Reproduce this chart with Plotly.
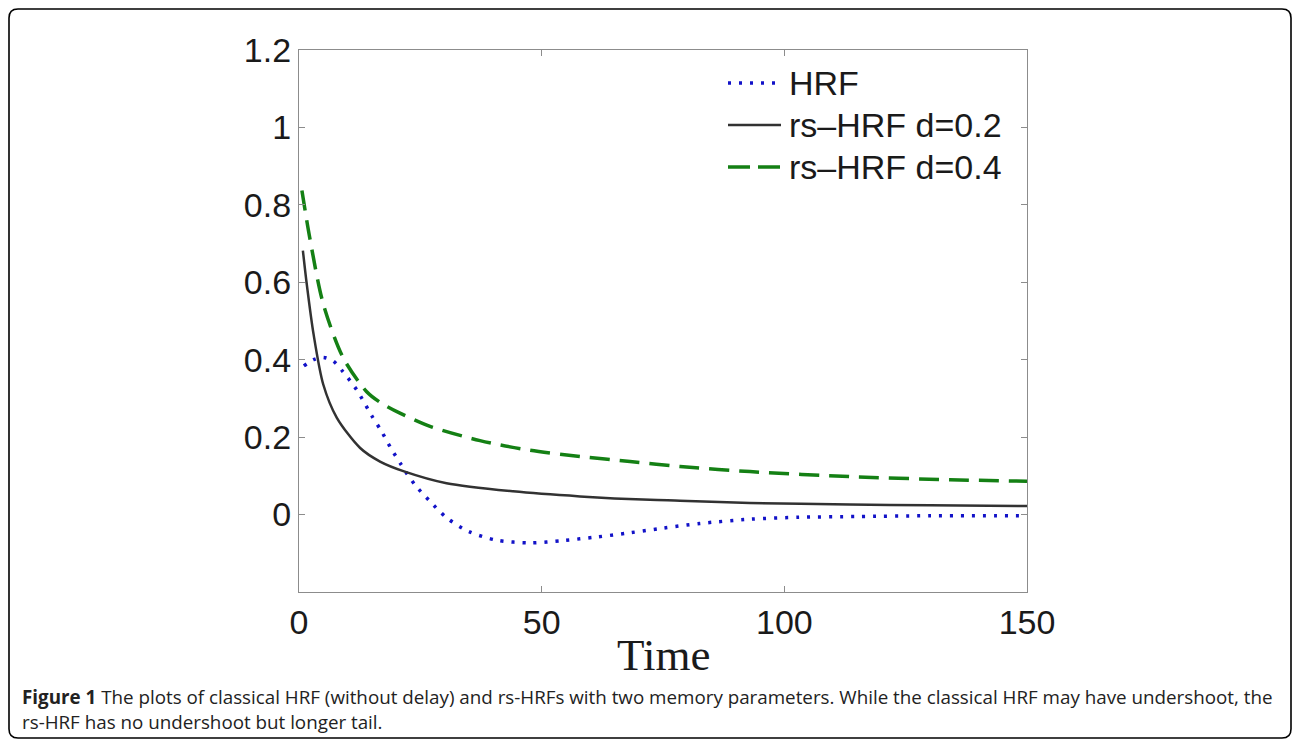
import plotly.graph_objects as go

# ---------------- data ----------------
hrf_t = [1, 3, 5, 7, 9, 12, 15, 17, 19, 21, 22, 24, 27, 30.4, 35, 40.7, 47.6, 54.4,
         61.3, 68.2, 75, 82.6, 92.9, 103, 115, 130, 150]
hrf_v = [0.384, 0.40, 0.406, 0.397, 0.37, 0.32, 0.255, 0.215, 0.17, 0.13, 0.11, 0.075,
         0.034, -0.008, -0.044, -0.066, -0.073, -0.067, -0.058, -0.047, -0.035, -0.023,
         -0.012, -0.007, -0.005, -0.003, -0.003]

rs02_t = [0.8, 1.6, 3, 5, 7.8, 12.6, 16.7, 21.8, 30.4, 44.1, 57.9, 72.3, 78.5, 92.9,
          113.5, 130, 150]
rs02_v = [0.682, 0.595, 0.466, 0.336, 0.25, 0.172, 0.137, 0.111, 0.081, 0.060, 0.047,
          0.038, 0.036, 0.030, 0.026, 0.024, 0.022]

rs04_t = [0.6, 2.2, 5, 9.1, 13.9, 16.7, 20.8, 27, 37.3, 47.6, 57.9, 68.2, 78.5, 92.9,
          113.5, 134.1, 150]
rs04_v = [0.837, 0.716, 0.544, 0.405, 0.318, 0.29, 0.262, 0.228, 0.191, 0.166, 0.150,
          0.137, 0.124, 0.111, 0.098, 0.090, 0.086]

series_names = ["HRF", "rs\u2013HRF d=0.2", "rs\u2013HRF d=0.4"]
x_ticks = [0, 50, 100, 150]
y_ticks = [0, 0.2, 0.4, 0.6, 0.8, 1, 1.2]
x_title = "Time"
caption_1 = ("<b>Figure 1</b> The plots of classical HRF (without delay) and rs-HRFs with two "
             "memory parameters. While the classical HRF may have undershoot, the")
caption_2 = "rs-HRF has no undershoot but longer tail."

# ---------------- layout geometry (screen pixels) ----------------
W, H = 1293, 741
L, R, T, B = 299, 1027, 50, 592


def px(xp):
    return (xp - L) / (R - L)


def py(yp):
    return (B - yp) / (B - T)


blue = "rgb(18,18,200)"
black = "rgb(50,50,50)"
green = "rgb(20,128,20)"
tick_font = dict(family="Liberation Sans, Arial, sans-serif", size=34, color="#1a1a1a")

styles = [
    dict(color=blue, width=3.5, dash="3px,8px"),
    dict(color=black, width=2.5, dash="solid"),
    dict(color=green, width=3.5, dash="20px,10px"),
]

fig = go.Figure()
for (tx, vy), name, st in zip([(hrf_t, hrf_v), (rs02_t, rs02_v), (rs04_t, rs04_v)],
                              series_names, styles):
    fig.add_trace(go.Scatter(x=tx, y=vy, mode="lines", name=name,
                             line=dict(shape="spline", smoothing=0.8, **st),
                             showlegend=False, hoverinfo="skip"))

# manual legend (line samples + labels)
leg_y = [83, 125, 167]
for name, st, yy in zip(series_names, styles, leg_y):
    sample_dash = st["dash"] if st["dash"] != "20px,10px" else "22px,8px"
    fig.add_shape(type="line", xref="paper", yref="paper",
                  x0=px(728), x1=px(781), y0=py(yy), y1=py(yy),
                  line=dict(color=st["color"], width=st["width"], dash=sample_dash))
    fig.add_annotation(xref="paper", yref="paper", x=px(787), y=py(yy),
                       xanchor="left", yanchor="middle", showarrow=False,
                       text=name, font=tick_font)

axis_common = dict(showline=True, linecolor="#8c8c8c", linewidth=1.3, mirror="ticks",
                   ticks="inside", ticklen=6, tickcolor="#8c8c8c", tickwidth=1,
                   showgrid=False, zeroline=False, tickfont=tick_font)

fig.update_xaxes(range=[0, 150], tickvals=x_ticks, ticklabelstandoff=0, **axis_common)
fig.update_yaxes(range=[-0.2, 1.2], tickvals=y_ticks, ticklabelstandoff=0, **axis_common)

# x-axis title
fig.add_annotation(xref="paper", yref="paper", x=0.5, y=py(655), xanchor="center",
                   yanchor="middle", showarrow=False, text=x_title,
                   font=dict(family="Liberation Serif, Times New Roman, serif", size=45,
                             color="#1a1a1a"))

# caption
cap_font = dict(family="Open Sans, Lato, sans-serif", size=18.8, color="#222")
fig.add_annotation(xref="paper", yref="paper", x=px(20), y=py(697), xanchor="left",
                   yanchor="middle", showarrow=False, text=caption_1, font=cap_font)
fig.add_annotation(xref="paper", yref="paper", x=px(20), y=py(722), xanchor="left",
                   yanchor="middle", showarrow=False, text=caption_2, font=cap_font)

# rounded outer frame
x0, y0, x1, y1, r = 9, 9, 1291, 738, 9
path = (f"M {px(x0)},{py(y0 + r)} "
        f"Q {px(x0)},{py(y0)} {px(x0 + r)},{py(y0)} "
        f"L {px(x1 - r)},{py(y0)} "
        f"Q {px(x1)},{py(y0)} {px(x1)},{py(y0 + r)} "
        f"L {px(x1)},{py(y1 - r)} "
        f"Q {px(x1)},{py(y1)} {px(x1 - r)},{py(y1)} "
        f"L {px(x0 + r)},{py(y1)} "
        f"Q {px(x0)},{py(y1)} {px(x0)},{py(y1 - r)} Z")
fig.add_shape(type="path", xref="paper", yref="paper", path=path,
              line=dict(color="black", width=1.6), layer="below")

fig.update_layout(width=W, height=H,
                  margin=dict(l=L, r=W - R, t=T, b=H - B),
                  paper_bgcolor="white", plot_bgcolor="white", showlegend=False)

fig.write_html("out.html", config={"displayModeBar": False},
               post_script="document.body.style.margin='0';"
                           "document.body.style.overflow='hidden';")
